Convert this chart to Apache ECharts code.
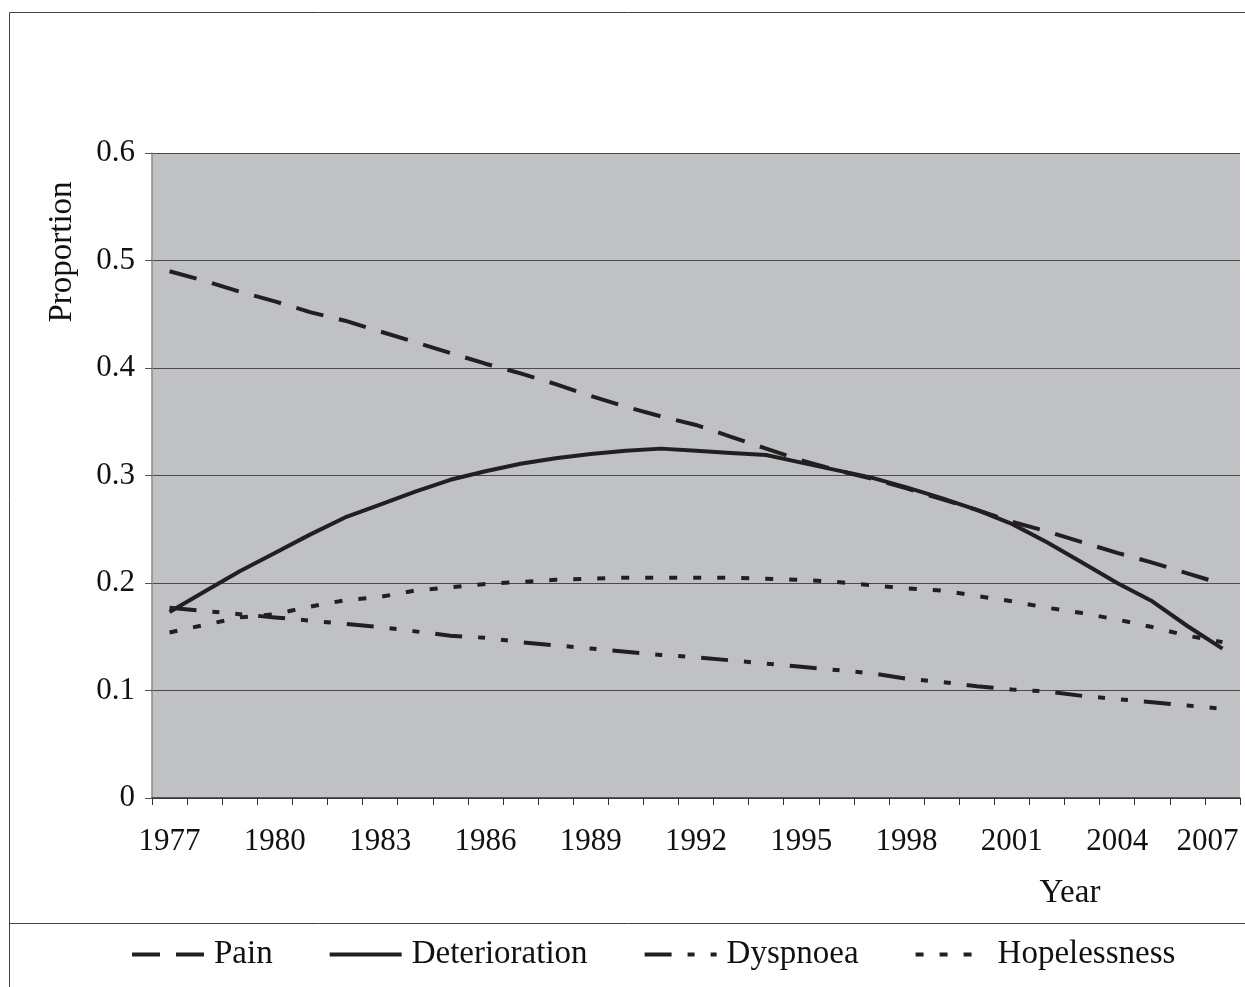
<!DOCTYPE html>
<html>
<head>
<meta charset="utf-8">
<script src="https://cdn.jsdelivr.net/npm/echarts@6/dist/echarts.min.js"></script>
<style>
html,body{margin:0;padding:0;background:#fff;}
#c{width:1245px;height:987px;}
</style>
</head>
<body>
<div id="c"></div>
<script>
const years = [];
for (let y = 1977; y <= 2007; y++) years.push(String(y));
const yTicks = [0, 0.1, 0.2, 0.3, 0.4, 0.5, 0.6];
const pain = [0.490,0.481,0.471,0.462,0.452,0.444,0.434,0.424,0.414,0.404,0.395,0.385,0.374,0.364,0.355,0.347,0.336,0.325,0.314,0.305,0.297,0.288,0.278,0.268,0.257,0.248,0.238,0.228,0.219,0.209,0.199];
const deterioration = [0.173,0.192,0.211,0.228,0.245,0.261,0.273,0.285,0.296,0.304,0.311,0.316,0.320,0.323,0.325,0.323,0.321,0.319,0.312,0.305,0.298,0.289,0.279,0.268,0.255,0.238,0.219,0.200,0.183,0.160,0.139];
const dyspnoea = [0.177,0.174,0.171,0.168,0.165,0.162,0.159,0.155,0.151,0.149,0.145,0.142,0.139,0.136,0.133,0.131,0.128,0.125,0.122,0.119,0.116,0.111,0.108,0.104,0.101,0.099,0.095,0.092,0.089,0.086,0.083];
const hopelessness = [0.154,0.161,0.168,0.171,0.178,0.184,0.187,0.193,0.196,0.199,0.201,0.203,0.204,0.205,0.205,0.205,0.205,0.204,0.203,0.201,0.198,0.195,0.193,0.188,0.183,0.177,0.172,0.166,0.159,0.151,0.145];

const FONT = '"Liberation Serif", "DejaVu Serif", serif';
const INK = '#231f20';
const chart = echarts.init(document.getElementById('c'));
function s(name, data, dash) {
  return {
    name, type: 'line', data, symbol: 'none', smooth: false,
    lineStyle: { color: INK, width: 4, type: dash, cap: 'butt' },
    itemStyle: { color: INK },
    animation: false
  };
}
// last category label is nudged left (as in the original) so it stays inside the frame
const xData = years.map((y, i) => i === years.length - 1
  ? { value: y, textStyle: { padding: [0, 30, 0, 0] } }
  : y);
chart.setOption({
  animation: false,
  backgroundColor: '#fff',
  grid: { left: 152, right: 5, top: 153, bottom: 189, show: true, backgroundColor: '#c0c1c5', borderWidth: 0,
    containLabel: false, outerBoundsMode: 'none' },
  xAxis: {
    type: 'category', data: xData, boundaryGap: true,
    axisLine: { lineStyle: { color: '#333', width: 1.5 } },
    axisTick: { show: true, interval: 0, length: 7, lineStyle: { color: '#333' } },
    axisLabel: { interval: 2, color: '#111', fontFamily: FONT, fontSize: 31, margin: 28 },
    splitLine: { show: false }
  },
  yAxis: {
    type: 'value', min: 0, max: 0.6, interval: 0.1,
    axisLine: { show: true, lineStyle: { color: '#888', width: 1.5 } },
    axisTick: { show: true, length: 7, lineStyle: { color: '#555' } },
    axisLabel: { color: '#111', fontFamily: FONT, fontSize: 31, margin: 17,
      formatter: v => { const t = yTicks.find(k => Math.abs(k - v) < 1e-9); return t === 0 ? '0' : String(t); } },
    splitLine: { show: true, lineStyle: { color: '#4a4a4a', width: 1 } }
  },
  legend: {
    left: 130, top: 938, padding: 0, itemWidth: 72, itemHeight: 14, itemGap: 55,
    itemStyle: { opacity: 0 },
    lineStyle: { width: 4 },
    textStyle: { fontFamily: FONT, fontSize: 33, color: '#111', padding: [0, 0, 0, 5] },
    data: ['Pain', 'Deterioration', 'Dyspnoea', 'Hopelessness']
  },
  graphic: [
    { type: 'line', shape: { x1: 9.5, y1: 12.5, x2: 1245, y2: 12.5 }, style: { stroke: '#444', lineWidth: 1 } },
    { type: 'line', shape: { x1: 9.5, y1: 12.5, x2: 9.5, y2: 987 }, style: { stroke: '#444', lineWidth: 1 } },
    { type: 'line', shape: { x1: 9.5, y1: 923.5, x2: 1245, y2: 923.5 }, style: { stroke: '#444', lineWidth: 1 } },
    { type: 'text', x: 62, y: 252, rotation: Math.PI / 2,
      style: { text: 'Proportion', font: '33px ' + FONT, fill: '#111', align: 'center', verticalAlign: 'middle' } },
    { type: 'text', x: 1070, y: 893,
      style: { text: 'Year', font: '33px ' + FONT, fill: '#111', align: 'center', verticalAlign: 'middle' } }
  ],
  series: [
    s('Pain', pain, [28, 16]),
    s('Deterioration', deterioration, 'solid'),
    s('Dyspnoea', dyspnoea, [27, 16, 7, 16, 7, 16]),
    s('Hopelessness', hopelessness, [8, 16])
  ]
});
</script>
</body>
</html>
